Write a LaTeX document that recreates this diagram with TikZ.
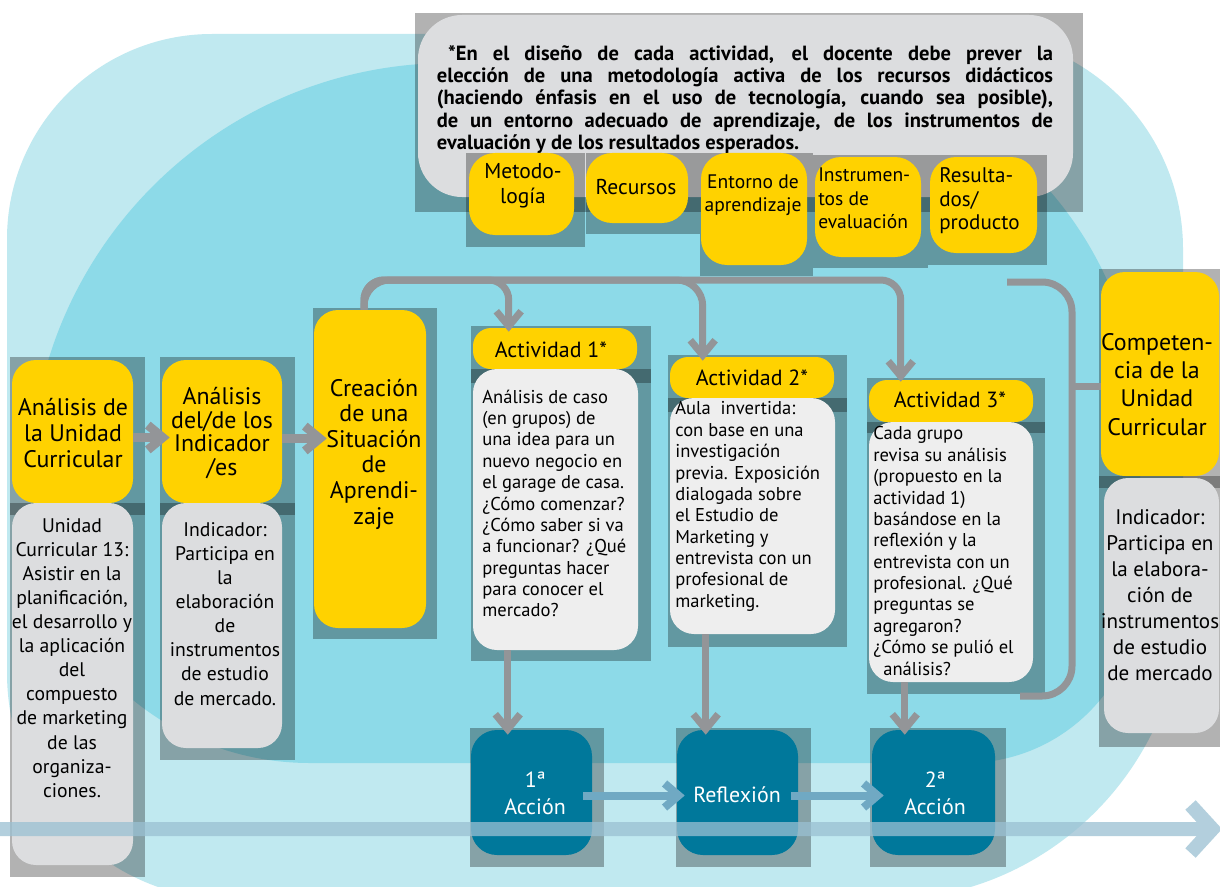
\documentclass[tikz,border=0pt]{standalone}
\usepackage{fontspec}
\setmainfont{PT Sans}
\usetikzlibrary{arrows.meta,fit,calc,positioning}
\definecolor{lightblob}{RGB}{192,233,240}
\definecolor{darkblob}{RGB}{141,218,232}
\definecolor{uyellow}{RGB}{255,210,0}
\definecolor{ugrey}{RGB}{220,221,223}
\definecolor{upale}{RGB}{238,238,238}
\definecolor{uteal}{RGB}{0,120,155}
\definecolor{linkgrey}{RGB}{147,149,152}
\definecolor{flowblue}{RGB}{112,169,195}
\definecolor{bandblue}{RGB}{154,192,210}
\tikzset{%
  drop/.style = {fill=black, fill opacity=0.3},
  ybox/.style = {fill=uyellow, rounded corners=0.6cm, inner sep=0pt},
  tbox/.style = {fill=uyellow, rounded corners=0.65cm, inner sep=0pt},
  hbox/.style = {fill=uyellow, rounded corners=0.45cm, inner sep=0pt},
  gbox/.style = {fill=ugrey, rounded corners=0.6cm, inner sep=0pt},
  pbox/.style = {fill=upale, rounded corners=0.6cm, inner sep=0pt},
  abox/.style = {fill=uteal, rounded corners=0.65cm, inner sep=0pt},
  big/.style = {align=center, inner sep=0pt, font=\fontsize{17}{18.2}\selectfont},
  body/.style = {align=center, inner sep=0pt, font=\fontsize{14}{17.1}\selectfont},
  small/.style = {align=center, inner sep=0pt, font=\fontsize{15.3}{17.8}\selectfont},
  tiny/.style = {align=left, inner sep=0pt, anchor=west, font=\fontsize{13.9}{16.7}\selectfont},
  head/.style = {inner sep=0pt, font=\fontsize{15.6}{18}\selectfont},
  acttext/.style = {align=left, inner sep=0pt, anchor=west, font=\fontsize{13.2}{15.2}\selectfont},
  acc/.style = {align=center, inner sep=0pt, text=white, font=\fontsize{15.6}{19.2}\selectfont},
  notetext/.style = {text width=15.4cm, align=justify, inner sep=0pt,
        font=\bfseries\fontsize{14.6}{15.9}\selectfont},
  link/.style = {draw=linkgrey, line width=0.175cm, -{Straight Barb[length=0.375cm,width=0.62cm]}},
  bar/.style = {draw=linkgrey, line width=0.175cm},
  flow/.style = {draw=flowblue, line width=0.2cm, -{Straight Barb[length=0.35cm,width=0.6cm]}},
  band/.style = {draw=bandblue, line width=0.35cm, -{Straight Barb[length=0.55cm,width=1.2cm]}}
}

\begin{document}
\begin{tikzpicture}[x=0.025cm, y=-0.025cm]
   \path[use as bounding box] (0,0) rectangle (1220,886);
   \clip (0,0) rectangle (1220,886);
   \fill[white] (0,0) rectangle (1220,886);

   % background blobs
   \fill[lightblob] (7,673) -- (7,239) arc[start angle=180, end angle=270, radius=205]
      -- (968,34) arc[start angle=270, end angle=360, radius=215]
      -- (1183,600) arc[start angle=0, end angle=90, radius=300]
      -- (234,900) arc[start angle=90, end angle=180, radius=227] -- cycle;
   \fill[darkblob] (30,483) arc[start angle=180, end angle=270, radius=420]
      -- (770,63) arc[start angle=270, end angle=360, radius=370]
      -- (1140,589) arc[start angle=0, end angle=90, radius=174]
      -- (310,763) arc[start angle=90, end angle=180, radius=280] -- cycle;

   % note and its five items
   \fill[drop] (415,13) rectangle (1083,212);
   \node[gbox, rounded corners=1.1cm, fit={(418,15) (1073,197)}] (note) {};
   \node[notetext] (notet) at (745,99.5) {\hspace*{0.28cm}*En el diseño de cada actividad, el docente debe prever la\linebreak
      elección de una metodología activa de los recursos didácticos\linebreak
      (haciendo énfasis en el uso de tecnología, cuando sea posible),\linebreak
      de un entorno adecuado de aprendizaje, de los instrumentos de\linebreak
      evaluación y de los resultados esperados.};

   \fill[drop] (466,153) rectangle (585,247);
   \node[tbox, fit={(469,153) (574,235)}] (metodo) {};
   \fill[drop] (586,153) rectangle (700,234);
   \node[tbox, fit={(586,153) (688,223)}] (recur) {};
   \fill[drop] (700,153) rectangle (813,276);
   \node[tbox, fit={(701,153) (807,265)}] (entorno) {};
   \fill[drop] (813,155) rectangle (928,268);
   \node[tbox, fit={(815,157) (921,257)}] (instr) {};
   \fill[drop] (928,155) rectangle (1047,265);
   \node[tbox, fit={(930,157) (1037,253)}] (result) {};
   \node[small] (metodot) at (523,186) {Metodo-\\logía};
   \node[small] (recurt) at (636,187) {Recursos};
   \node[small, font=\fontsize{13.9}{16.7}\selectfont] (entornot) at (753,195) {Entorno de\\aprendizaje};
   \node[tiny] (instrt) at (818,198.5) {Instrumen-\\tos de\\evaluación};
   \node[tiny, font=\fontsize{15}{16.7}\selectfont] (resultt) at (939,201) {Resulta-\\dos/\\producto};

   % left columns
   \fill[drop] (10,357) rectangle (145,515);
   \node[ybox, fit={(12,360) (133,503)}] (auc) {};
   \fill[drop] (10,503) rectangle (145,877);
   \node[gbox, fit={(12,503) (133,865)}] (aucb) {};
   \node[big] (auct) at (73,433) {Análisis de\\la Unidad\\Curricular};
   \node[body] (aucbt) at (72,658) {Unidad\\Curricular 13:\\Asistir en la\\planificación,\\el desarrollo y\\la aplicación\\del\\compuesto\\de marketing\\de las\\organiza-\\ciones.};

   \fill[drop] (160,357) rectangle (295,515);
   \node[ybox, fit={(162,360) (282,503)}] (ind) {};
   \fill[drop] (160,503) rectangle (295,760);
   \node[gbox, fit={(162,503) (282,748)}] (indb) {};
   \node[big, font=\fontsize{17}{16.8}\selectfont] (indt) at (222,433) {Análisis\\del/de los\\Indicador\\/es};
   \node[body] (indbt) at (225,614) {Indicador:\\Participa en\\la\\elaboración\\de\\instrumentos\\de estudio\\de mercado.};

   \fill[drop] (313,308) rectangle (437,639);
   \node[ybox, fit={(314,310) (426,628)}] (crea) {};
   \node[big] (creat) at (374,454) {Creación\\de una\\Situación\\de\\Aprendi-\\zaje};

   % activities
   \fill[drop] (471,326) rectangle (651,383);
   \node[hbox, fit={(473,328) (637,369)}] (act1) {};
   \fill[drop] (471,369) rectangle (651,661);
   \node[pbox, fit={(473,369) (638,650)}] (act1b) {};
   \node[head] (act1t) at (551,350) {Actividad 1*};
   \node[acttext] (act1bt) at (482,503.5) {Análisis de caso\\(en grupos) de\\una idea para un\\nuevo negocio en\\el garage de casa.\\¿Cómo comenzar?\\¿Cómo saber si va\\a funcionar? ¿Qué\\preguntas hacer\\para conocer el\\mercado?};

   \fill[drop] (668,355) rectangle (847,412);
   \node[hbox, fit={(670,357) (834,398)}] (act2) {};
   \fill[drop] (668,398) rectangle (847,647);
   \node[pbox, fit={(670,398) (835,634)}] (act2b) {};
   \node[head] (act2t) at (752,378) {Actividad 2*};
   \node[acttext] (act2bt) at (675,506.5) {Aula~ invertida:\\con base en una\\investigación\\previa. Exposición\\dialogada sobre\\el Estudio de\\Marketing y\\entrevista con un\\profesional de\\marketing.};

   \fill[drop] (867,378) rectangle (1045,433);
   \node[hbox, fit={(869,380) (1033,422)}] (act3) {};
   \fill[drop] (867,422) rectangle (1045,694);
   \node[pbox, fit={(869,422) (1033,682)}] (act3b) {};
   \node[head] (act3t) at (950,400) {Actividad 3*};
   \node[acttext] (act3bt) at (873,551) {Cada grupo\\revisa su análisis\\(propuesto en la\\actividad 1)\\basándose en la\\reflexión y la\\entrevista con un\\profesional. ¿Qué\\preguntas se\\agregaron?\\¿Cómo se pulió el\\\hspace*{0.25cm}análisis?};

   % competencia
   \fill[drop] (1099,269) rectangle (1235,488);
   \node[ybox, fit={(1101,272) (1219,476)}] (comp) {};
   \fill[drop] (1099,476) rectangle (1235,747);
   \node[gbox, fit={(1104,478) (1219,733)}] (compb) {};
   \node[big, font=\fontsize{17}{20}\selectfont] (compt) at (1157,384.5) {Competen-\\cia de la\\Unidad\\Curricular};
   \node[body, font=\fontsize{15}{18.5}\selectfont] (compbt) at (1160,595.5) {Indicador:\\Participa en\\la elabora-\\ción de\\instrumentos\\de estudio\\de mercado};

   % action cycle
   \fill[drop] (470,728) rectangle (604,867);
   \node[abox, fit={(471,730) (592,855)}] (acc1) {};
   \fill[drop] (676,728) rectangle (811,867);
   \node[abox, fit={(677,730) (798,855)}] (refl) {};
   \fill[drop] (870,728) rectangle (1006,867);
   \node[abox, fit={(872,730) (995,855)}] (acc2) {};
   \node[acc] (acc1t) at (535,793) {1ª\\Acción};
   \node[acc] (reflt) at (737,795) {Reflexión};
   \node[acc] (acc2t) at (935,793) {2ª\\Acción};

   % connectors
   \draw[link, line width=0.22cm] ($(auc.east)+(0,6)$) -- ($(ind.west)+(8,6)$);
   \draw[link, line width=0.22cm] ($(ind.east)+(0,7)$) -- ($(ind.east -| crea.west)+(13,7)$);

   \coordinate (topline) at (0,280);
   \coordinate (out0) at ($(crea.north)+(-6,0)$);
   \coordinate (in1) at ($(act1.north west)+(36,4)$);
   \coordinate (in2) at ($(act2.north west)+(33,4)$);
   \coordinate (in3) at ($(act3.north west)+(32,2)$);
   \draw[link, rounded corners=0.5cm] (out0) |- (in3 |- topline) -- (in3);
   \draw[link, rounded corners=0.5cm] (out0) |- (in1 |- topline) -- (in1);
   \draw[link, rounded corners=0.65cm] (out0) |- (in2 |- topline) -- (in2);

   \coordinate (brtop) at (1007,282);
   \coordinate (brbot) at (1020,696);
   \coordinate (brside) at (1072,0);
   \coordinate (tick) at (1072,386);
   \draw[bar, rounded corners=0.75cm] (brtop) -| (brside |- brbot) -- (brbot);
   \draw[bar] (tick) -- (tick -| comp.west);

   \coordinate (d1) at ($(acc1.north west)+(37,5)$);
   \coordinate (d2) at ($(refl.north west)+(29,5)$);
   \coordinate (d3) at ($(acc2.north west)+(33,5)$);
   \draw[link] (d1 |- act1b.south) -- (d1);
   \draw[link] (d2 |- act2b.south) -- (d2);
   \draw[link] (d3 |- act3b.south) -- (d3);

   \draw[flow] ($(acc1.east)+(-9,3)$) -- ($(refl.west)+(8,3)$);
   \draw[flow] ($(refl.east)+(-7,3)$) -- ($(acc2.west)+(12,3)$);

   \coordinate (bandL) at (-10,829);
   \coordinate (bandR) at (1222,829);
   \begin{scope}[transparency group, opacity=0.75]
      \draw[band] (bandL) -- (bandR);
   \end{scope}
\end{tikzpicture}
\end{document}
